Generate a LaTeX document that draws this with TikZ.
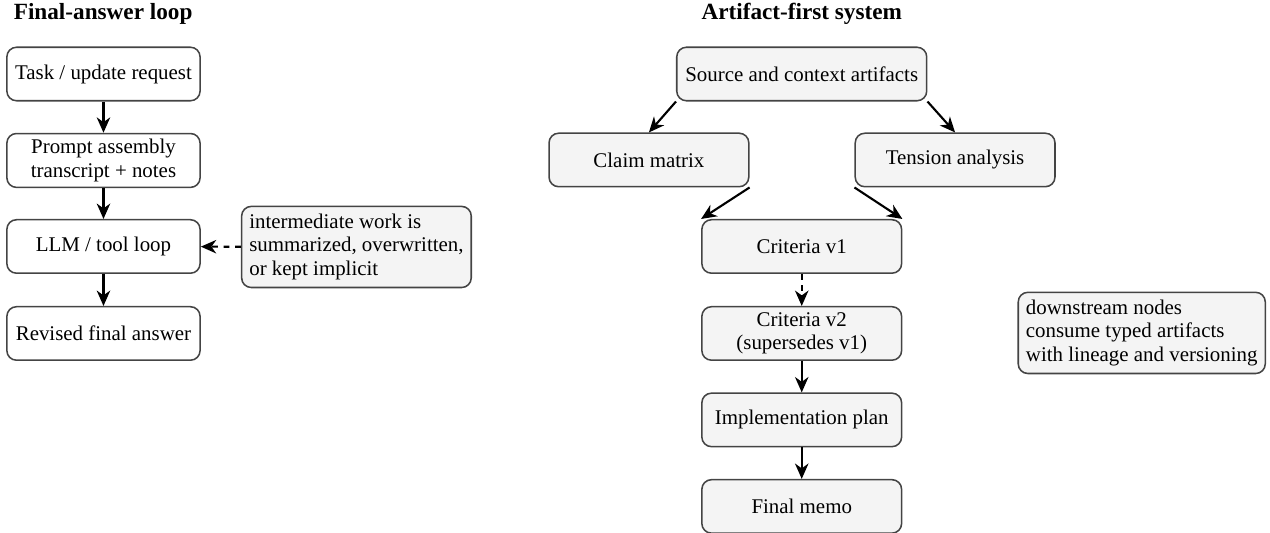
\documentclass[tikz,border=0pt]{standalone}
\usepackage{fontspec}
\setmainfont{Liberation Serif}
\usepackage{xcolor}
\usepackage{tikz}
\usetikzlibrary{arrows.meta, calc, positioning}
\definecolor{boxfill}{HTML}{F4F4F4}
\definecolor{edge}{HTML}{444444}

\tikzset{
  every node/.style={font=\fontsize{10.9}{12.2}\selectfont},
  stepbox/.style={draw=edge, thick, rounded corners=5pt, fill=white, align=center,
                  minimum width=3.54cm, minimum height=0.98cm, inner sep=3pt},
  artbox/.style={stepbox, fill=boxfill, minimum width=3.66cm},
  notebox/.style={draw=edge, thick, rounded corners=5pt, fill=boxfill, align=left,
                  inner sep=4pt},
  flow/.style={-{Stealth[length=8pt,width=7pt,inset=2.5pt]}, line width=1.1pt},
  title/.style={font=\fontsize{12.1}{14}\selectfont\bfseries}
}

\begin{document}
\begin{tikzpicture}
\useasboundingbox (0,0) rectangle (23.27,-9.765);

% left: final-answer loop
\node[title] (ltitle) at (1.89,-0.25) {Final-answer loop};
\node[stepbox] (task)    at (1.896,-1.356) {Task / update request};
\node[stepbox] (prompt)  at (1.896,-2.94)  {Prompt assembly\\transcript + notes};
\node[stepbox] (llm)     at (1.896,-4.516) {LLM / tool loop};
\node[stepbox] (revised) at (1.896,-6.11)  {Revised final answer};
\node[notebox] (lnote)   at (6.531,-4.525) {intermediate work is\\summarized, overwritten,\\or kept implicit};

\draw[flow] (task) -- (prompt);
\draw[flow] (prompt) -- (llm);
\draw[flow] (llm) -- (revised);
\draw[flow, dashed] (lnote) -- (llm);

% right: artifact-first system
\node[title] (rtitle) at (14.69,-0.25) {Artifact-first system};
\node[artbox, minimum width=4.58cm] (source) at (14.69,-1.356) {Source and context artifacts};
\node[artbox] (claim)   at (11.89,-2.931) {Claim matrix};
\node[artbox] (tension) at (17.50,-2.931) {Tension analysis};
\node[artbox] (crita)   at (14.69,-4.516) {Criteria v1};
\node[artbox] (critb)   at (14.69,-6.11)  {Criteria v2\\(supersedes v1)};
\node[artbox] (plan)    at (14.69,-7.694) {Implementation plan};
\node[artbox] (memo)    at (14.69,-9.279) {Final memo};
\node[notebox] (rnote)  at (20.92,-6.10) {downstream nodes\\consume typed artifacts\\with lineage and versioning};

\draw[flow] (source.south west) -- (claim.north);
\draw[flow] (source.south east) -- (tension.north);
\draw[flow] (claim.south east) -- (crita.north west);
\draw[flow] (tension.south west) -- (crita.north east);
\draw[flow, dashed] (crita) -- (critb);
\draw[flow] (critb) -- (plan);
\draw[flow] (plan) -- (memo);

\end{tikzpicture}
\end{document}
